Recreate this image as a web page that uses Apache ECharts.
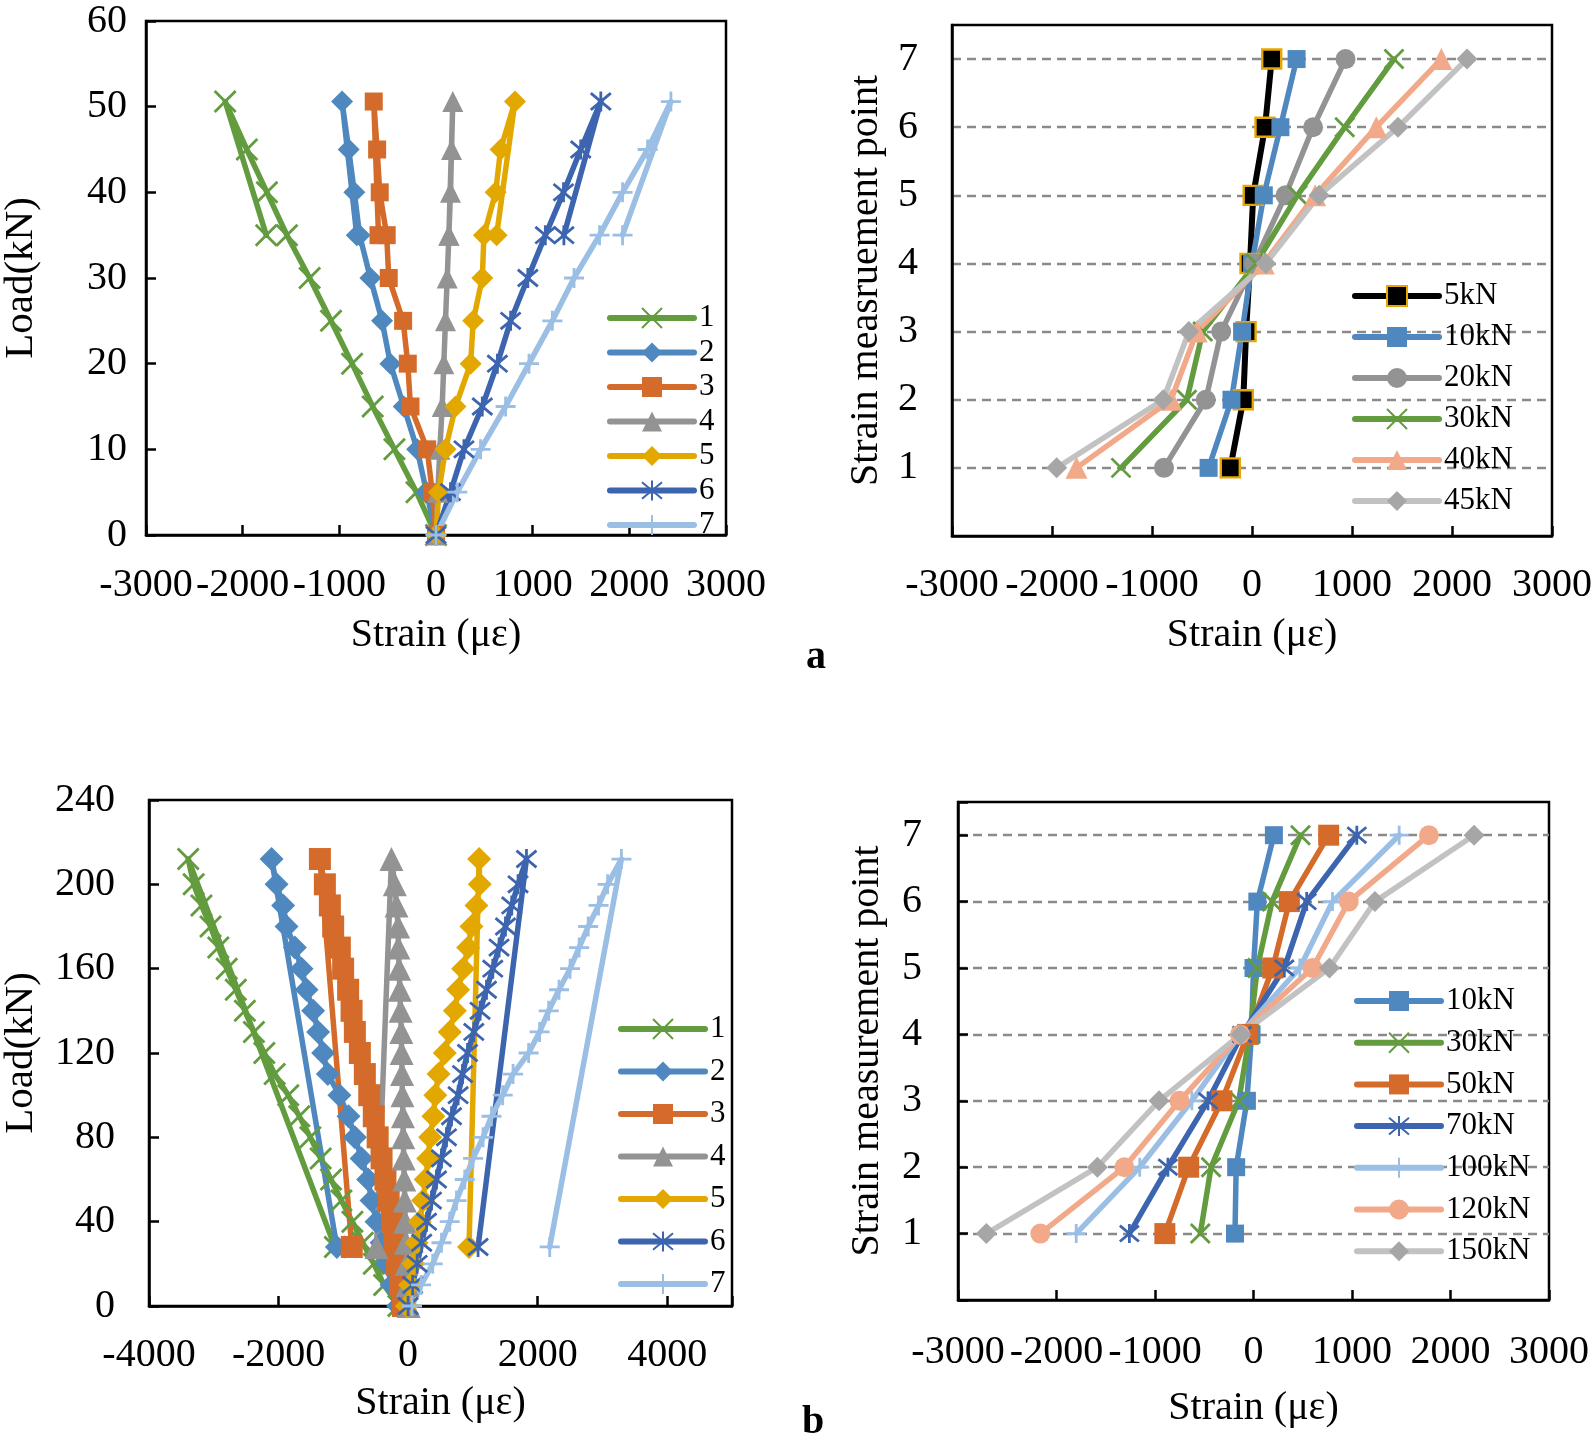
<!DOCTYPE html>
<html><head><meta charset="utf-8">
<script src="https://cdn.jsdelivr.net/npm/echarts@6/dist/echarts.min.js"></script>
<style>html,body{margin:0;padding:0;background:#fff}#c{width:1594px;height:1449px}</style>
</head><body><div id="c"></div>
<script>
// ---------- Panel a, left: load (kN) vs strain (με) for gauges 1–7 ----------
const loadA = [0, 5, 10, 15, 20, 25, 30, 35, 40, 45, 50.6, 35];
const strainA1 = [0, -202, -430, -655, -868, -1086, -1307, -1542, -1749, -1957, -2181, -1756];
const strainA2 = [0, -98, -195, -334, -472, -558, -679, -790, -845, -903, -972, -820];
const strainA3 = [0, -39, -91, -264, -292, -340, -489, -510, -582, -609, -644, -595];
const strainA4 = [0, 19, 40, 64, 81, 98, 116, 133, 150, 161, 174, 133];
const strainA5 = [0, 29, 98, 202, 358, 385, 479, 496, 617, 668, 817, 627];
const strainA6 = [0, 150, 289, 479, 635, 772, 950, 1131, 1319, 1497, 1705, 1323];
const strainA7 = [0, 220, 461, 720, 962, 1204, 1428, 1692, 1930, 2189, 2430, 1930];

// ---------- Panel a, right: strain at measurement points 1–7 ----------
const pointsA = [1, 2, 3, 4, 5, 6, 7];
const distA5kN  = [-217, -87, -59, -20, 12, 130, 197];
const distA10kN = [-434, -205, -99, 0, 118, 284, 446];
const distA20kN = [-880, -462, -308, 20, 335, 611, 935];
const distA30kN = [-1310, -651, -493, 40, 454, 927, 1420];
const distA40kN = [-1755, -809, -552, 118, 631, 1243, 1893];
const distA45kN = [-1953, -888, -631, 138, 671, 1460, 2150];

// ---------- Panel b, left ----------
const loadB = [0, 10, 20, 30, 40, 50, 60, 70, 80, 90, 100, 110, 120, 130, 140, 150, 160, 170, 180, 190, 200, 212, 28];
const strainB1 = [-150, -370, -530, -700, -860, -1030, -1190, -1350, -1510, -1680, -1850, -2060, -2220, -2380, -2520, -2660, -2800, -2930, -3050, -3190, -3310, -3395, -1130];
const strainB2 = [-154, -256, -333, -410, -488, -565, -617, -719, -822, -920, -1060, -1240, -1312, -1389, -1466, -1568, -1645, -1748, -1876, -1929, -2031, -2108, -1100];
const strainB3 = [-80, -120, -170, -210, -250, -300, -350, -410, -470, -530, -600, -668, -745, -822, -873, -926, -1003, -1054, -1157, -1208, -1285, -1362, -870];
const strainB4 = [10, -10, -25, -35, -45, -52, -60, -68, -75, -80, -88, -93, -100, -105, -117, -128, -139, -150, -154, -179, -205, -257, -488];
const strainB5 = [-20, 30, 80, 130, 180, 230, 270, 310, 340, 390, 420, 470, 566, 643, 721, 772, 849, 926, 978, 1055, 1106, 1096, 940];
const strainB6 = [0, 70, 140, 210, 284, 361, 438, 515, 592, 670, 772, 840, 917, 1014, 1111, 1210, 1307, 1404, 1503, 1600, 1697, 1827, 1080];
const strainB7 = [60, 200, 380, 515, 643, 747, 875, 1003, 1157, 1287, 1460, 1620, 1860, 2030, 2170, 2330, 2500, 2640, 2780, 2940, 3080, 3293, 2186];

// ---------- Panel b, right ----------
const pointsB = [1, 2, 3, 4, 5, 6, 7];
const distB10kN  = [-188, -176, -67, -20, 0, 39, 207];
const distB30kN  = [-540, -431, -149, -39, 39, 188, 477];
const distB50kN  = [-900, -658, -321, -59, 196, 364, 763];
const distB70kN  = [-1260, -869, -462, -117, 313, 540, 1049];
const distB100kN = [-1800, -1155, -626, -137, 470, 802, 1479];
const distB120kN = [-2164, -1311, -751, -137, 599, 967, 1781];
const distB150kN = [-2712, -1585, -959, -129, 771, 1233, 2239];

// ---------- tick labels ----------
const strainTicksA = [-3000, -2000, -1000, 0, 1000, 2000, 3000];
const loadTicksA = [0, 10, 20, 30, 40, 50, 60];
const strainTicksBL = [-4000, -2000, 0, 2000, 4000];
const loadTicksB = [0, 40, 80, 120, 160, 200, 240];
const pointTicks = [1, 2, 3, 4, 5, 6, 7];

const FONT = "'Liberation Serif', 'Times New Roman', serif";
const C = {
  green: '#629C3F', blue: '#4F88BF', orange: '#D46B2A', gray: '#939393',
  gold: '#E2A800', navy: '#3D65AF', sky: '#9BBFE4', salmon: '#F2A98A',
  lgray: '#C2C2C2', lgrayM: '#A6A6A6', black: '#000000', yellowEdge: '#E8A600'
};
const SYM = {
  x: 'path://M0,0L20,20M20,0L0,20',
  star: 'path://M0,0L20,20M20,0L0,20M10,-2L10,22',
  plus: 'path://M10,0L10,20M-2,10L22,10'
};

function ser(name, g, xs, ys, o) {
  const stroke = o.sym === SYM.x || o.sym === SYM.star || o.sym === SYM.plus;
  return {
    type: 'line', name: name, xAxisIndex: g, yAxisIndex: g,
    data: xs.map((v, i) => [v, ys[i]]),
    symbol: o.sym, symbolSize: o.size, showAllSymbol: true,
    lineStyle: { color: o.line || o.color, width: o.width || 5.5, cap: 'round', join: 'round' },
    itemStyle: {
      color: stroke ? 'rgba(0,0,0,0)' : o.color,
      borderColor: o.edge || o.color,
      borderWidth: stroke ? 2.8 : (o.edge ? 2.4 : 0)
    },
    animation: false, emphasis: { disabled: true }, silent: true
  };
}

function xAxis(g, ticks, min, max, margin, gap) {
  return {
    type: 'value', gridIndex: g, min: min, max: max, interval: ticks[1] - ticks[0],
    axisLine: { show: true, onZero: false, lineStyle: { color: '#000', width: 2.5 } },
    axisTick: { show: true, inside: true, length: 10, lineStyle: { color: '#000', width: 2.5 } },
    splitLine: { show: false },
    axisLabel: { color: '#000', fontFamily: FONT, fontSize: 40, margin: margin, hideOverlap: false,
      showMinLabel: true, showMaxLabel: true,
      formatter: v => ticks.indexOf(v) >= 0 ? String(v) : '' },
    name: 'Strain (με)', nameLocation: 'middle', nameGap: gap,
    nameTextStyle: { color: '#000', fontFamily: FONT, fontSize: 40 }
  };
}

function yAxisLoad(g, ticks, margin, gap) {
  return {
    type: 'value', gridIndex: g, min: ticks[0], max: ticks[ticks.length - 1], interval: ticks[1] - ticks[0],
    axisLine: { show: true, onZero: false, lineStyle: { color: '#000', width: 2.5 } },
    axisTick: { show: true, inside: true, length: 10, lineStyle: { color: '#000', width: 2.5 } },
    splitLine: { show: false },
    axisLabel: { color: '#000', fontFamily: FONT, fontSize: 40, margin: margin,
      formatter: v => ticks.indexOf(v) >= 0 ? String(v) : '' },
    name: 'Load(kN)', nameLocation: 'middle', nameGap: gap,
    nameTextStyle: { color: '#000', fontFamily: FONT, fontSize: 41 }
  };
}

function yAxisPoint(g, title, ticksShown, margin, gap) {
  return {
    type: 'value', gridIndex: g, min: 0, max: 7.5, interval: 1,
    axisLine: { show: true, onZero: false, lineStyle: { color: '#000', width: 2.5 } },
    axisTick: { show: ticksShown, inside: true, length: 10, lineStyle: { color: '#000', width: 2.5 } },
    splitLine: { show: true, showMinLine: false, showMaxLine: false,
      lineStyle: { color: '#8A8A8A', width: 2.4, type: [9, 6] } },
    axisLabel: { color: '#000', fontFamily: FONT, fontSize: 40, margin: margin,
      formatter: v => pointTicks.indexOf(v) >= 0 ? String(v) : '' },
    name: title, nameLocation: 'middle', nameGap: gap,
    nameTextStyle: { color: '#000', fontFamily: FONT, fontSize: 40 }
  };
}

function legend(names, left, firstCenter, pitch, itemH) {
  return {
    data: names, orient: 'vertical', left: left, top: firstCenter - pitch / 2,
    itemWidth: 84, itemHeight: itemH, itemGap: 0, padding: 0, selectedMode: false,
    formatter: n => n.split('|')[1],
    lineStyle: { width: 6, cap: 'round' },
    textStyle: { color: '#000', fontFamily: FONT, fontSize: 31, lineHeight: pitch }
  };
}

const gridBase = { show: true, borderColor: '#000', borderWidth: 2.5, backgroundColor: 'transparent', containLabel: false, outerBoundsMode: 'none' };

const tl = [
  ser('L|1', 0, strainA1, loadA, { color: C.green, sym: SYM.x, size: 21 }),
  ser('L|2', 0, strainA2, loadA, { color: C.blue, sym: 'diamond', size: 22 }),
  ser('L|3', 0, strainA3, loadA, { color: C.orange, sym: 'rect', size: 18 }),
  ser('L|4', 0, strainA4, loadA, { color: C.gray, sym: 'triangle', size: 21 }),
  ser('L|5', 0, strainA5, loadA, { color: C.gold, sym: 'diamond', size: 22 }),
  ser('L|6', 0, strainA6, loadA, { color: C.navy, sym: SYM.star, size: 20 }),
  ser('L|7', 0, strainA7, loadA, { color: C.sky, sym: SYM.plus, size: 20 })
];
const tr = [
  ser('A|5kN', 1, distA5kN, pointsA, { color: C.black, edge: C.yellowEdge, sym: 'rect', size: 19, width: 6 }),
  ser('A|10kN', 1, distA10kN, pointsA, { color: C.blue, sym: 'rect', size: 18 }),
  ser('A|20kN', 1, distA20kN, pointsA, { color: C.gray, sym: 'circle', size: 20 }),
  ser('A|30kN', 1, distA30kN, pointsA, { color: C.green, sym: SYM.x, size: 19 }),
  ser('A|40kN', 1, distA40kN, pointsA, { color: C.salmon, sym: 'triangle', size: 22 }),
  ser('A|45kN', 1, distA45kN, pointsA, { color: C.lgrayM, line: C.lgray, sym: 'diamond', size: 21 })
];
const bl = [
  ser('B|1', 2, strainB1, loadB, { color: C.green, sym: SYM.x, size: 21 }),
  ser('B|2', 2, strainB2, loadB, { color: C.blue, sym: 'diamond', size: 24 }),
  ser('B|3', 2, strainB3, loadB, { color: C.orange, sym: 'rect', size: 22 }),
  ser('B|4', 2, strainB4, loadB, { color: C.gray, sym: 'triangle', size: 24 }),
  ser('B|5', 2, strainB5, loadB, { color: C.gold, sym: 'diamond', size: 24 }),
  ser('B|6', 2, strainB6, loadB, { color: C.navy, sym: SYM.star, size: 20 }),
  ser('B|7', 2, strainB7, loadB, { color: C.sky, sym: SYM.plus, size: 20 })
];
const br = [
  ser('C|10kN', 3, distB10kN, pointsB, { color: C.blue, sym: 'rect', size: 18 }),
  ser('C|30kN', 3, distB30kN, pointsB, { color: C.green, sym: SYM.x, size: 19 }),
  ser('C|50kN', 3, distB50kN, pointsB, { color: C.orange, sym: 'rect', size: 21 }),
  ser('C|70kN', 3, distB70kN, pointsB, { color: C.navy, sym: SYM.star, size: 19 }),
  ser('C|100kN', 3, distB100kN, pointsB, { color: C.sky, sym: SYM.plus, size: 19 }),
  ser('C|120kN', 3, distB120kN, pointsB, { color: C.salmon, sym: 'circle', size: 20 }),
  ser('C|150kN', 3, distB150kN, pointsB, { color: C.lgrayM, line: C.lgray, sym: 'diamond', size: 21 })
];

const chart = echarts.init(document.getElementById('c'), null, { renderer: 'canvas', width: 1594, height: 1449 });
chart.setOption({
  backgroundColor: '#fff',
  animation: false,
  grid: [
    Object.assign({ left: 146, top: 21, width: 580, height: 514 }, gridBase),
    Object.assign({ left: 952, top: 25, width: 600, height: 511 }, gridBase),
    Object.assign({ left: 149, top: 800, width: 583, height: 506 }, gridBase),
    Object.assign({ left: 958, top: 802, width: 591, height: 498 }, gridBase)
  ],
  xAxis: [
    xAxis(0, strainTicksA, -3000, 3000, 30, 80),
    xAxis(1, strainTicksA, -3000, 3000, 29, 79),
    xAxis(2, strainTicksBL, -4000, 5000, 29, 77),
    xAxis(3, strainTicksA, -3000, 3000, 32, 88)
  ],
  yAxis: [
    yAxisLoad(0, loadTicksA, 19, 104),
    yAxisPoint(1, 'Strain measruement point', false, 34, 66),
    yAxisLoad(2, loadTicksB, 34, 107),
    yAxisPoint(3, 'Strain measurement point', true, 36, 71)
  ],
  legend: [
    legend(tl.map(s => s.name), 607, 318, 34.5, 25),
    legend(tr.map(s => s.name), 1352, 296, 41, 25),
    legend(bl.map(s => s.name), 618, 1029, 42.5, 25),
    legend(br.map(s => s.name), 1354, 1001, 41.7, 25)
  ],
  graphic: [
    { type: 'text', x: 816, y: 658, style: { text: 'a', fontFamily: FONT, fontSize: 40, fontWeight: 'bold', fill: '#000', align: 'center', verticalAlign: 'middle' } },
    { type: 'text', x: 813, y: 1423, style: { text: 'b', fontFamily: FONT, fontSize: 40, fontWeight: 'bold', fill: '#000', align: 'center', verticalAlign: 'middle' } }
  ],
  series: tl.concat(tr, bl, br)
});
</script></body></html>
